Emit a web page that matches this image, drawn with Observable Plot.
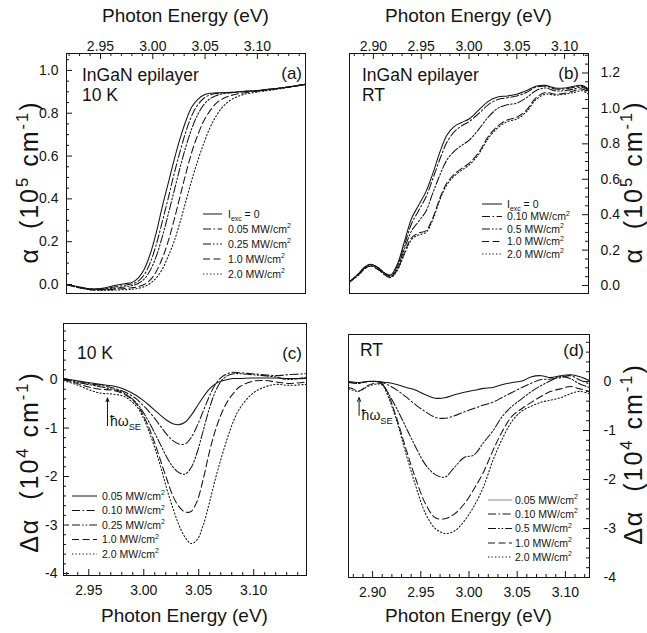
<!DOCTYPE html>
<html><head><meta charset="utf-8">
<script src="https://cdn.jsdelivr.net/npm/d3@7"></script>
<script src="https://cdn.jsdelivr.net/npm/@observablehq/plot@0.6"></script>
<style>
body{margin:0;background:#fff;}
#root{position:relative;width:647px;height:633px;overflow:hidden;background:#fff;}
#root svg{position:absolute;left:0;top:0;}
text{white-space:pre;}
</style></head><body><div id="root"></div>
<script>
// ---------- DATA ----------
// (a) InGaN epilayer, 10 K: absorption alpha (1e5 cm^-1)
const energiesA = [2.9175,2.9289,2.9403,2.9518,2.9632,2.9746,2.9803,2.986,2.9917,2.9974,3.0032,3.0089,3.0146,3.0203,3.026,3.0317,3.0374,3.0431,3.0488,3.0545,3.0603,3.066,3.0717,3.0774,3.0831,3.0888,3.0945,3.1002,3.1059,3.1174,3.1288,3.1459];
const aExc0   = [0.00,-0.01,-0.02,-0.018,-0.005,0.005,0.01,0.03,0.07,0.14,0.24,0.36,0.47,0.58,0.68,0.765,0.83,0.865,0.885,0.893,0.895,0.896,0.897,0.898,0.90,0.902,0.904,0.906,0.909,0.915,0.922,0.935];
const aExc005 = [0.0,-0.012,-0.02,-0.02,-0.012,-0.002,0.003,0.015,0.045,0.10,0.185,0.29,0.40,0.515,0.62,0.715,0.79,0.84,0.87,0.885,0.892,0.895,0.897,0.898,0.90,0.902,0.904,0.906,0.909,0.915,0.922,0.935];
const aExc025 = [0.0,-0.013,-0.022,-0.022,-0.018,-0.01,-0.005,0.005,0.025,0.065,0.13,0.22,0.325,0.435,0.545,0.645,0.73,0.795,0.84,0.867,0.882,0.89,0.894,0.897,0.90,0.902,0.904,0.906,0.909,0.915,0.922,0.935];
const aExc10  = [0.0,-0.014,-0.024,-0.025,-0.022,-0.018,-0.015,-0.01,0.0,0.02,0.06,0.12,0.20,0.30,0.41,0.52,0.62,0.70,0.765,0.81,0.845,0.865,0.878,0.886,0.892,0.896,0.90,0.903,0.907,0.914,0.921,0.935];
const aExc20  = [0.0,-0.015,-0.025,-0.027,-0.026,-0.024,-0.022,-0.018,-0.01,0.005,0.03,0.07,0.13,0.20,0.29,0.39,0.49,0.58,0.66,0.73,0.785,0.825,0.852,0.87,0.882,0.89,0.895,0.899,0.903,0.911,0.92,0.933];
const legendA = ["I{_exc} = 0","0.05 MW/cm{^2}","0.25 MW/cm{^2}","1.0 MW/cm{^2}","2.0 MW/cm{^2}"];

// (b) InGaN epilayer, RT: absorption alpha (1e5 cm^-1)
const energiesB = [2.875,2.885,2.89,2.897,2.905,2.912,2.918,2.925,2.932,2.94,2.947,2.955,2.962,2.97,2.977,2.985,2.992,3.0,3.01,3.02,3.03,3.04,3.05,3.06,3.07,3.08,3.09,3.1,3.11,3.118,3.125];
const bExc0   = [0.02,0.07,0.10,0.12,0.10,0.07,0.06,0.12,0.24,0.38,0.45,0.53,0.63,0.76,0.85,0.90,0.92,0.94,0.99,1.04,1.065,1.07,1.08,1.10,1.125,1.13,1.115,1.115,1.125,1.13,1.11];
const bExc010 = [0.02,0.07,0.10,0.12,0.10,0.07,0.055,0.11,0.22,0.35,0.42,0.50,0.60,0.72,0.81,0.87,0.90,0.925,0.97,1.02,1.05,1.06,1.07,1.09,1.12,1.125,1.11,1.11,1.12,1.125,1.105];
const bExc05  = [0.02,0.065,0.095,0.115,0.095,0.065,0.05,0.10,0.20,0.31,0.36,0.42,0.52,0.63,0.71,0.76,0.79,0.82,0.88,0.95,1.0,1.02,1.03,1.06,1.10,1.115,1.10,1.10,1.11,1.12,1.10];
const bExc10  = [0.02,0.065,0.09,0.11,0.09,0.06,0.045,0.09,0.18,0.27,0.295,0.31,0.38,0.50,0.58,0.63,0.66,0.69,0.75,0.84,0.90,0.935,0.95,0.99,1.06,1.09,1.08,1.085,1.10,1.11,1.09];
const bExc20  = [0.02,0.06,0.09,0.11,0.09,0.06,0.045,0.085,0.17,0.26,0.285,0.30,0.37,0.49,0.57,0.62,0.65,0.68,0.74,0.83,0.89,0.925,0.94,0.98,1.05,1.08,1.075,1.08,1.09,1.10,1.08];
const legendB = ["I{_exc} = 0","0.10 MW/cm{^2}","0.5 MW/cm{^2}","1.0 MW/cm{^2}","2.0 MW/cm{^2}"];

// (c) 10 K: differential absorption (1e4 cm^-1)
const energiesC = [2.927,2.9381,2.9491,2.9602,2.9712,2.9823,2.9933,2.9988,3.0044,3.0099,3.0154,3.0209,3.0265,3.032,3.0375,3.043,3.0486,3.0541,3.0596,3.0651,3.0707,3.0762,3.0817,3.0872,3.0983,3.1093,3.1204,3.1314,3.148];
const cExc005 = [0.02,-0.02,-0.06,-0.1,-0.13,-0.2,-0.33,-0.42,-0.52,-0.63,-0.74,-0.84,-0.91,-0.93,-0.88,-0.74,-0.55,-0.36,-0.2,-0.09,-0.03,0.0,0.02,0.02,0.03,0.03,0.03,0.02,0.02];
const cExc010 = [0.02,-0.03,-0.08,-0.12,-0.17,-0.25,-0.4,-0.52,-0.65,-0.8,-0.97,-1.13,-1.26,-1.33,-1.33,-1.2,-0.95,-0.65,-0.35,-0.1,0.05,0.12,0.15,0.14,0.12,0.1,0.08,0.1,0.12];
const cExc025 = [0.0,-0.05,-0.1,-0.15,-0.2,-0.28,-0.48,-0.65,-0.86,-1.1,-1.35,-1.6,-1.8,-1.92,-1.95,-1.82,-1.5,-1.05,-0.6,-0.25,-0.02,0.08,0.12,0.12,0.1,0.08,0.05,0.0,0.05];
const cExc10  = [0.0,-0.07,-0.15,-0.2,-0.22,-0.3,-0.5,-0.7,-0.98,-1.3,-1.68,-2.05,-2.4,-2.62,-2.73,-2.72,-2.5,-2.05,-1.5,-1.05,-0.7,-0.45,-0.28,-0.15,-0.04,-0.02,-0.05,-0.08,-0.05];
const cExc20  = [-0.02,-0.1,-0.2,-0.28,-0.3,-0.35,-0.55,-0.75,-1.05,-1.4,-1.8,-2.25,-2.65,-3.0,-3.25,-3.38,-3.3,-3.0,-2.55,-2.05,-1.6,-1.2,-0.85,-0.6,-0.3,-0.16,-0.1,-0.12,-0.1];
const legendC = ["0.05 MW/cm{^2}","0.10 MW/cm{^2}","0.25 MW/cm{^2}","1.0 MW/cm{^2}","2.0 MW/cm{^2}"];
const arrowC = [{e: 2.967, from: -0.95, to: -0.38}];

// (d) RT: differential absorption (1e4 cm^-1)
const energiesD = [2.875,2.88,2.885,2.89,2.895,2.905,2.91,2.915,2.925,2.935,2.945,2.955,2.965,2.975,2.985,2.995,3.005,3.015,3.025,3.035,3.045,3.055,3.065,3.075,3.085,3.095,3.105,3.115,3.125];
const dExc005 = [0.0,-0.01,-0.02,-0.01,0.0,0.0,-0.01,-0.02,-0.06,-0.12,-0.18,-0.27,-0.34,-0.33,-0.27,-0.22,-0.18,-0.14,-0.12,-0.06,-0.02,0.01,0.1,0.12,0.08,0.12,0.14,0.1,0.02];
const dExc010 = [-0.02,-0.03,-0.04,-0.02,0.0,0.0,-0.02,-0.06,-0.17,-0.32,-0.48,-0.62,-0.73,-0.75,-0.7,-0.62,-0.55,-0.48,-0.42,-0.32,-0.22,-0.12,-0.03,0.04,0.05,0.08,0.12,0.03,-0.05];
const dExc05  = [-0.02,-0.03,-0.04,-0.02,0.0,0.0,-0.05,-0.2,-0.55,-0.95,-1.35,-1.7,-1.9,-1.95,-1.75,-1.55,-1.5,-1.25,-1.0,-0.7,-0.5,-0.35,-0.2,-0.08,0.02,0.1,0.06,-0.05,-0.12];
const dExc10  = [-0.12,-0.15,-0.2,-0.15,-0.08,-0.03,-0.05,-0.2,-0.75,-1.4,-2.0,-2.5,-2.78,-2.8,-2.7,-2.5,-2.2,-1.85,-1.4,-1.0,-0.7,-0.55,-0.42,-0.3,-0.2,-0.15,-0.1,-0.15,-0.2];
const dExc20  = [-0.15,-0.18,-0.2,-0.16,-0.1,-0.05,-0.07,-0.25,-0.8,-1.5,-2.15,-2.7,-3.0,-3.1,-3.05,-2.85,-2.55,-2.15,-1.6,-1.15,-0.8,-0.6,-0.5,-0.42,-0.38,-0.33,-0.25,-0.2,-0.25];
const legendD = ["0.05 MW/cm{^2}","0.10 MW/cm{^2}","0.5 MW/cm{^2}","1.0 MW/cm{^2}","2.0 MW/cm{^2}"];
const arrowD = [{e: 2.886, from: -0.69, to: -0.33}];

// ticks
const xMajor10K = [2.95,3.00,3.05,3.10];
const xMajorRT = [2.90,2.95,3.00,3.05,3.10];
const xMinorAll = [2.88,2.89,2.91,2.92,2.93,2.94,2.96,2.97,2.98,2.99,3.01,3.02,3.03,3.04,3.06,3.07,3.08,3.09,3.11,3.12,3.13,3.14];
const yMajorA = [0.0,0.2,0.4,0.6,0.8,1.0];
const yMajorB = [0.0,0.2,0.4,0.6,0.8,1.0,1.2];
const yMinorAB = [0.05,0.1,0.15,0.25,0.3,0.35,0.45,0.5,0.55,0.65,0.7,0.75,0.85,0.9,0.95,1.05,1.1,1.15,1.25,1.3];
const yMajorCD = [-4,-3,-2,-1,0];
const yMinorCD = [-3.8,-3.6,-3.4,-3.2,-2.8,-2.6,-2.4,-2.2,-1.8,-1.6,-1.4,-1.2,-0.8,-0.6,-0.4,-0.2,0.2,0.4,0.6,0.8,1.0];

// ---------- STYLE ----------
const INK = "#141414";
const FONT = "'Liberation Sans', Arial, Helvetica, sans-serif";
const DASH = [null, "8,2.5,1.6,2.5", "8,2,1.6,2,1.6,2", "7,3.5", "1.3,2.2"];
const W = 647, H = 633;
const root = document.getElementById("root");

function panel(cfg) {
  const [x0, y0, x1, y1] = cfg.frame;
  const pw = x1 - x0, ph = y1 - y0;
  const top = cfg.xAxis === "top", left = cfg.yAxis === "left";
  const inX = v => v > cfg.xDomain[0] && v < cfg.xDomain[1];
  const inY = v => v > cfg.yDomain[0] && v < cfg.yDomain[1];
  const marks = [];
  cfg.series.forEach((vals, si) => {
    marks.push(Plot.line(cfg.energies.map((e, i) => ({e, v: vals[i]})), {
      x: "e", y: "v", curve: "catmull-rom", stroke: INK, strokeWidth: 1.05,
      strokeDasharray: DASH[si], clip: true
    }));
  });
  const xin = top ? "insetBottom" : "insetTop";
  const yin = left ? "insetRight" : "insetLeft";
  marks.push(Plot.tickX(cfg.xMajor.filter(inX), {x: d => d, stroke: INK, [xin]: ph - 6}));
  marks.push(Plot.tickX(xMinorAll.filter(inX), {x: d => d, stroke: INK, [xin]: ph - 3}));
  marks.push(Plot.tickY(cfg.yMajor.filter(inY), {y: d => d, stroke: INK, [yin]: pw - 6}));
  marks.push(Plot.tickY(cfg.yMinor.filter(inY), {y: d => d, stroke: INK, [yin]: pw - 3}));
  marks.push(Plot.text(cfg.xMajor, {x: d => d, frameAnchor: top ? "top" : "bottom",
    lineAnchor: top ? "bottom" : "top", dy: top ? -3 : 10, text: d => d.toFixed(2),
    fontSize: 14, fill: INK}));
  marks.push(Plot.text(cfg.yMajor, {y: d => d, frameAnchor: left ? "left" : "right",
    textAnchor: left ? "end" : "start", dx: cfg.yDx, text: cfg.yFmt, fontSize: 14, fill: INK}));
  if (cfg.arrow) marks.push(Plot.arrow(cfg.arrow, {x1: "e", x2: "e", y1: "from", y2: "to",
    stroke: INK, strokeWidth: 1, headLength: 6, headAngle: 45}));
  marks.push(Plot.frame({stroke: INK, strokeWidth: 1}));
  const p = Plot.plot({
    width: W, height: H,
    marginLeft: x0, marginRight: W - x1, marginTop: y0, marginBottom: H - y1,
    x: {domain: cfg.xDomain, axis: null},
    y: {domain: cfg.yDomain, axis: null},
    style: {background: "transparent", fontFamily: FONT, overflow: "visible", position: "absolute", left: "0px", top: "0px"},
    marks
  });
  root.appendChild(p);
  return p;
}

const f1 = d => d.toFixed(1), f0 = d => String(d);
const pA = panel({frame: [66, 53, 305, 293], xDomain: [2.9175, 3.146], yDomain: [-0.042, 1.079],
  energies: energiesA, series: [aExc0, aExc005, aExc025, aExc10, aExc20],
  xMajor: xMajor10K, yMajor: yMajorA, yMinor: yMinorAB,
  xAxis: "top", yAxis: "left", yDx: -8, yFmt: f1});
const pB = panel({frame: [349, 53, 588, 293], xDomain: [2.875, 3.125], yDomain: [-0.045, 1.31],
  energies: energiesB, series: [bExc0, bExc010, bExc05, bExc10, bExc20],
  xMajor: xMajorRT, yMajor: yMajorB, yMinor: yMinorAB,
  xAxis: "top", yAxis: "right", yDx: 12, yFmt: f1});
const pC = panel({frame: [63, 323, 306, 575], xDomain: [2.927, 3.148], yDomain: [-4.04, 1.155],
  energies: energiesC, series: [cExc005, cExc010, cExc025, cExc10, cExc20],
  xMajor: xMajor10K, yMajor: yMajorCD, yMinor: yMinorCD,
  xAxis: "bottom", yAxis: "left", yDx: -6, yFmt: f0, arrow: arrowC});
const pD = panel({frame: [348, 334, 589, 577], xDomain: [2.875, 3.125], yDomain: [-4.0, 0.96],
  energies: energiesD, series: [dExc005, dExc010, dExc05, dExc10, dExc20],
  xMajor: xMajorRT, yMajor: yMajorCD, yMinor: yMinorCD,
  xAxis: "bottom", yAxis: "right", yDx: 14, yFmt: f0, arrow: arrowD});

// ---------- TEXT OVERLAY ----------
const ov = d3.select(root).append("svg").attr("width", W).attr("height", H)
  .style("font-family", FONT).style("overflow", "visible");

function rich(str, x, y, fs, opt = {}) {
  const t = ov.append("text").attr("x", x).attr("y", y).attr("font-size", fs)
    .attr("fill", INK).attr("text-anchor", opt.anchor || "start");
  if (opt.rotate) t.attr("transform", `rotate(-90,${x},${y})`);
  if (opt.spacing) t.attr("letter-spacing", opt.spacing);
  const re = /\{([_^])([^}]*)\}/g;
  let last = 0, m, shift = 0;
  const push = (txt, kind) => {
    if (!txt) return;
    const target = kind === "^" ? -0.42 * fs : kind === "_" ? 0.28 * fs : 0;
    const ts = t.append("tspan").text(txt).attr("dy", target - shift);
    shift = target;
    if (kind) ts.attr("font-size", fs * 0.66);
  };
  while ((m = re.exec(str))) { push(str.slice(last, m.index), null); push(m[2], m[1]); last = re.lastIndex; }
  push(str.slice(last), null);
  return t;
}

// axis titles
rich("Photon Energy (eV)", 185.5, 22, 19, {anchor: "middle"});
rich("Photon Energy (eV)", 468.5, 22, 19, {anchor: "middle"});
rich("Photon Energy (eV)", 184.5, 622, 19, {anchor: "middle"});
rich("Photon Energy (eV)", 468.5, 622, 19, {anchor: "middle"});
rich("α  (10{^5} cm{^-1})", 38, 182, 25, {anchor: "middle", rotate: true, spacing: 2});
rich("α  (10{^5} cm{^-1})", 642, 182, 25, {anchor: "middle", rotate: true, spacing: 2});
rich("Δα  (10{^4} cm{^-1})", 38, 462, 25, {anchor: "middle", rotate: true, spacing: 2});
rich("Δα  (10{^4} cm{^-1})", 642, 454, 25, {anchor: "middle", rotate: true, spacing: 2});

// panel labels
rich("InGaN epilayer", 82, 81, 17.5);
rich("10 K", 82, 101, 17.5);
rich("(a)", 302, 79, 17, {anchor: "end"});
rich("InGaN epilayer", 362, 81, 17.5);
rich("RT", 362, 101, 17.5);
rich("(b)", 579, 79, 17, {anchor: "end"});
rich("10 K", 77, 359, 17.5);
rich("(c)", 302, 359, 17, {anchor: "end"});
rich("RT", 360, 356, 17.5);
rich("(d)", 584, 356, 17, {anchor: "end"});

// legends
function legend(labels, xl1, xl2, tx, rows, firstColor) {
  labels.forEach((lab, i) => {
    ov.append("line").attr("x1", xl1).attr("x2", xl2).attr("y1", rows[i]).attr("y2", rows[i])
      .attr("stroke", i === 0 && firstColor ? firstColor : INK).attr("stroke-width", 1)
      .attr("stroke-dasharray", DASH[i]);
    rich(lab, tx, rows[i] + 3.8, 10.5);
  });
}
legend(legendA, 203, 222, 228, [214, 229, 244, 259, 274]);
legend(legendB, 482, 502, 507, [204, 216.5, 229, 241.5, 254]);
legend(legendC, 72, 97, 102, [496, 510.5, 525, 539.5, 554]);
legend(legendD, 488, 512, 515, [500, 514, 528.5, 543, 557], "#8a8a8a");

// hbar-omega labels next to arrows
const sxC = pC.scale("x"), syC = pC.scale("y");
const sxD = pD.scale("x"), syD = pD.scale("y");
rich("ħω{_SE}", sxC.apply(arrowC[0].e) + 3, syC.apply(arrowC[0].from) + 1, 14);
rich("ħω{_SE}", sxD.apply(arrowD[0].e) + 3, syD.apply(arrowD[0].from) + 5, 14);
</script>
</body></html>
